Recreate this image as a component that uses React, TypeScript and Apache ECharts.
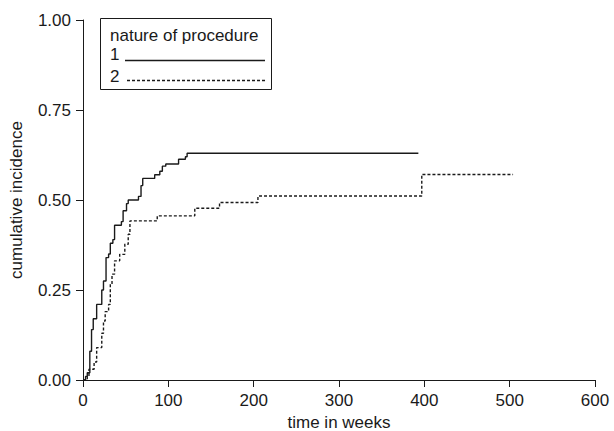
import React, { useEffect, useRef } from "react";
import * as echarts from "echarts";

const xTicks = [0, 100, 200, 300, 400, 500, 600];
const yTicks = [0, 0.25, 0.5, 0.75, 1];

const legendTitle = "nature of procedure";
const groupNames = ["1", "2"];

const group1Times = [0, 3, 5, 8, 10, 12, 16, 22, 24, 27, 30, 32, 35, 37, 45, 47, 51, 53, 65, 68, 70, 84, 90, 93, 97, 112, 120, 122, 393];
const group1Values = [0, 0.01, 0.02, 0.08, 0.14, 0.17, 0.21, 0.25, 0.275, 0.34, 0.35, 0.38, 0.39, 0.43, 0.44, 0.47, 0.49, 0.5, 0.51, 0.54, 0.56, 0.57, 0.58, 0.594, 0.6, 0.613, 0.62, 0.63, 0.63];

const group2Times = [0, 5, 7, 13, 16, 22, 24, 26, 30, 32, 34, 37, 43, 49, 53, 55, 87, 131, 160, 205, 397, 504];
const group2Values = [0, 0.01, 0.03, 0.05, 0.09, 0.13, 0.164, 0.19, 0.21, 0.266, 0.294, 0.331, 0.349, 0.377, 0.405, 0.442, 0.456, 0.477, 0.493, 0.511, 0.571, 0.571];

const FONT = "'Liberation Sans', Arial, sans-serif";
const INK = "#1a1a1a";

export default function App() {
  const ref = useRef<HTMLDivElement>(null);
  useEffect(() => {
    if (!ref.current) return;
    const chart = echarts.init(ref.current, undefined, { renderer: "svg" });
    const d1 = group1Times.map((t, i) => [t, group1Values[i]]);
    const d2 = group2Times.map((t, i) => [t, group2Values[i]]);
    chart.setOption({
      animation: false,
      backgroundColor: "#ffffff",
      textStyle: { fontFamily: FONT },
      grid: { left: 83, right: 19, top: 20, bottom: 51, containLabel: false, outerBoundsMode: "none" },
      xAxis: {
        type: "value",
        min: xTicks[0],
        max: xTicks[xTicks.length - 1],
        interval: 100,
        name: "time in weeks",
        nameLocation: "middle",
        nameGap: 34,
        nameTextStyle: { fontSize: 17, color: INK, fontFamily: FONT },
        axisLine: { show: true, onZero: false, lineStyle: { color: INK, width: 1 } },
        axisTick: { show: true, length: 7, lineStyle: { color: INK } },
        axisLabel: { fontSize: 17, color: INK, margin: 12, fontFamily: FONT },
        splitLine: { show: false },
      },
      yAxis: {
        type: "value",
        min: yTicks[0],
        max: yTicks[yTicks.length - 1],
        interval: 0.25,
        name: "cumulative incidence",
        nameLocation: "middle",
        nameGap: 58,
        nameTextStyle: { fontSize: 17, color: INK, fontFamily: FONT },
        axisLine: { show: true, onZero: false, lineStyle: { color: INK, width: 1 } },
        axisTick: { show: true, length: 7, lineStyle: { color: INK } },
        axisLabel: {
          fontSize: 17,
          color: INK,
          margin: 12,
          fontFamily: FONT,
          formatter: (v: number) => v.toFixed(2),
        },
        splitLine: { show: false },
      },
      series: [
        {
          name: groupNames[0],
          type: "line",
          step: "end",
          symbol: "none",
          data: d1,
          lineStyle: { color: INK, width: 1.4 },
        },
        {
          name: groupNames[1],
          type: "line",
          step: "end",
          symbol: "none",
          data: d2,
          lineStyle: { color: INK, width: 1.4, type: [3, 2] },
        },
      ],
      graphic: [
        {
          type: "rect",
          shape: { x: 100.5, y: 18.5, width: 171, height: 71 },
          style: { fill: "#ffffff", stroke: INK, lineWidth: 1 },
          z: 100,
        },
        {
          type: "text",
          x: 110,
          y: 35,
          style: { text: legendTitle, font: `17px ${FONT}`, fill: INK, verticalAlign: "middle", align: "left" },
          z: 101,
        },
        {
          type: "text",
          x: 110,
          y: 54,
          style: { text: groupNames[0], font: `17px ${FONT}`, fill: INK, verticalAlign: "middle", align: "left" },
          z: 101,
        },
        {
          type: "line",
          shape: { x1: 125, y1: 60.5, x2: 265, y2: 60.5 },
          style: { stroke: INK, lineWidth: 1.4 },
          z: 101,
        },
        {
          type: "text",
          x: 110,
          y: 76,
          style: { text: groupNames[1], font: `17px ${FONT}`, fill: INK, verticalAlign: "middle", align: "left" },
          z: 101,
        },
        {
          type: "line",
          shape: { x1: 127, y1: 80.5, x2: 265, y2: 80.5 },
          style: { stroke: INK, lineWidth: 1.4, lineDash: [3, 2] },
          z: 101,
        },
      ],
    });
    return () => chart.dispose();
  }, []);
  return <div ref={ref} style={{ width: 614, height: 431, position: "absolute", left: 0, top: 0 }} />;
}
